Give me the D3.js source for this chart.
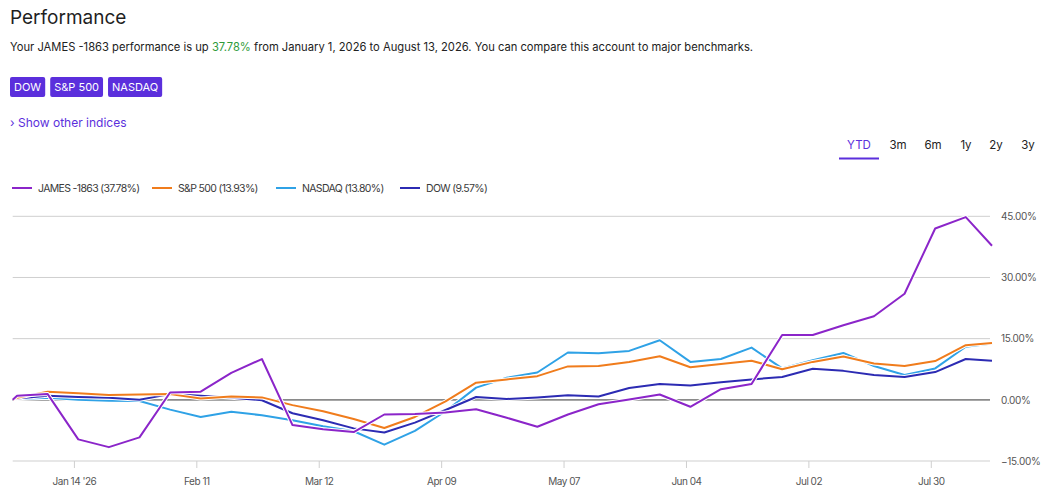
<!DOCTYPE html>
<html>
<head>
<meta charset="utf-8">
<script src="https://cdn.jsdelivr.net/npm/d3@7"></script>
<style>
  body { margin: 0; background: #fff; }
  svg { display: block; font-family: "Inter", "Roboto", sans-serif; }
</style>
</head>
<body>
<svg id="chart" width="1044" height="495"></svg>
<script>
const dates = [
  "2026-01-01", "2026-01-02", "2026-01-09", "2026-01-16", "2026-01-23", "2026-01-30",
  "2026-02-06", "2026-02-13", "2026-02-20", "2026-02-27",
  "2026-03-06", "2026-03-13", "2026-03-20", "2026-03-27",
  "2026-04-03", "2026-04-10", "2026-04-17", "2026-04-24",
  "2026-05-01", "2026-05-08", "2026-05-15", "2026-05-22", "2026-05-29",
  "2026-06-05", "2026-06-12", "2026-06-19", "2026-06-26",
  "2026-07-03", "2026-07-10", "2026-07-17", "2026-07-24", "2026-07-31",
  "2026-08-07", "2026-08-13"
];

const james = [0, 1.0, 1.4, -9.7, -11.6, -9.2, 1.8, 2.0, 6.6, 10.0,
  -6.2, -7.2, -7.9, -3.6, -3.5, -3.1, -2.3, -4.4,
  -6.6, -3.6, -1.1, 0.1, 1.3, -1.7, 2.6, 3.9, 15.9,
  15.9, 18.3, 20.5, 26.0, 42.0, 44.8, 37.78];
const sp500 = [0, 0.5, 2.0, 1.6, 1.2, 1.3, 1.4, 0.3, 0.8, 0.6,
  -1.3, -2.8, -4.7, -6.9, -4.2, -0.4, 4.2, 5.0,
  5.8, 8.2, 8.3, 9.3, 10.7, 8.0, 8.8, 9.6, 7.5,
  9.3, 10.6, 8.9, 8.3, 9.5, 13.4, 13.93];
const nasdaq = [0, 0.2, 0.5, 0.0, -0.2, -0.3, -2.4, -4.2, -2.9, -3.8,
  -5.0, -6.5, -7.7, -11.0, -7.6, -2.8, 3.0, 5.4,
  6.7, 11.6, 11.4, 12.0, 14.6, 9.3, 10.0, 12.8, 7.7,
  9.7, 11.5, 8.3, 6.1, 7.7, 13.0, 13.80];
const dow = [0, 0.3, 1.0, 0.7, 0.5, 0.0, 1.4, 1.0, 0.5, -0.1,
  -3.3, -5.0, -7.0, -8.0, -5.6, -2.5, 0.7, 0.2,
  0.6, 1.1, 0.8, 2.9, 3.9, 3.5, 4.3, 5.0, 5.6,
  7.6, 7.1, 6.1, 5.6, 6.8, 10.0, 9.57];

const seriesNames = ["JAMES -1863", "S&P 500", "NASDAQ", "DOW"];
const seriesColors = ["#8b25c9", "#f07c1c", "#2fa2e6", "#2c2bb3"];
const seriesValues = [james, sp500, nasdaq, dow];
const seriesTotals = ["37.78%", "13.93%", "13.80%", "9.57%"];

const yTicks = [45, 30, 15, 0, -15];
const xTickDates = ["2026-01-15", "2026-02-12", "2026-03-12", "2026-04-09",
  "2026-05-07", "2026-06-04", "2026-07-02", "2026-07-30"];
const xTickLabels = ["Jan 14 '26", "Feb 11", "Mar 12", "Apr 09", "May 07", "Jun 04", "Jul 02", "Jul 30"];

const benchButtons = ["DOW", "S&P 500", "NASDAQ"];
const ranges = ["YTD", "3m", "6m", "1y", "2y", "3y"];

const parse = d3.timeParse("%Y-%m-%d");
const svg = d3.select("#chart");
const purple = "#5b2fdc";

// header
svg.append("text")
  .attr("x", 10).attr("y", 24)
  .style("font-size", "19px").style("fill", "#1f1f1f")
  .text("Performance");

const sub = svg.append("text")
  .attr("x", 10).attr("y", 51)
  .style("font-size", "11.2px").style("fill", "#222");
sub.append("tspan").text("Your JAMES -1863 performance is up ");
sub.append("tspan").style("fill", "#2e9a3a").text("37.78%");
sub.append("tspan").text(" from January 1, 2026 to August 13, 2026. You can compare this account to major benchmarks.");

let bx = 10;
benchButtons.forEach(name => {
  const g = svg.append("g").attr("transform", `translate(${bx}, 77)`);
  const t = g.append("text")
    .attr("x", 4).attr("y", 14)
    .style("font-size", "11px").style("fill", "#fff")
    .text(name);
  const w = t.node().getComputedTextLength() + 8;
  g.insert("rect", "text")
    .attr("width", w).attr("height", 20).attr("rx", 2)
    .attr("fill", purple);
  bx += w + 5;
});

svg.append("text")
  .attr("x", 10).attr("y", 127)
  .style("font-size", "12px").style("fill", purple)
  .text("› Show other indices");

// range tabs
const tabX = [859, 898, 933, 966, 996, 1028];
ranges.forEach((r, i) => {
  svg.append("text")
    .attr("x", tabX[i]).attr("y", 149)
    .attr("text-anchor", "middle")
    .style("font-size", "11.5px")
    .style("fill", i === 0 ? purple : "#222")
    .text(r);
});
svg.append("line")
  .attr("x1", 839).attr("x2", 879).attr("y1", 158.5).attr("y2", 158.5)
  .attr("stroke", purple).attr("stroke-width", 2);

// legend
const legendX = [12, 152, 276, 400];
seriesNames.forEach((name, i) => {
  const g = svg.append("g").attr("transform", `translate(${legendX[i]}, 188)`);
  g.append("line")
    .attr("x1", 0).attr("x2", 20)
    .attr("stroke", seriesColors[i]).attr("stroke-width", 2);
  g.append("text")
    .attr("x", 26).attr("y", 4)
    .style("font-size", "10.5px").style("fill", "#3a3a3a")
    .style("letter-spacing", "-0.65px")
    .text(`${name} (${seriesTotals[i]})`);
});

// plot
const x = d3.scaleTime()
  .domain([parse(dates[0]), parse(dates[dates.length - 1])])
  .range([12.7, 992]);
const y = d3.scaleLinear()
  .domain([-15, 45])
  .range([461, 216.3]);

const grid = svg.append("g");
grid.selectAll("line")
  .data(yTicks)
  .enter()
  .append("line")
  .attr("x1", 12.7).attr("x2", 990)
  .attr("y1", d => y(d)).attr("y2", d => y(d))
  .attr("stroke", d => d === 0 ? "#8a8a8a" : "#cfcfcf")
  .attr("stroke-width", d => d === 0 ? 1.6 : 1);

const yAxis = svg.append("g")
  .attr("transform", "translate(990, 0)")
  .call(d3.axisRight(y).tickValues(yTicks).tickSize(0).tickPadding(11)
    .tickFormat(d => d3.format(".2f")(d) + "%"));
yAxis.select(".domain").remove();
yAxis.selectAll("text")
  .style("font-family", "Inter, Roboto, sans-serif")
  .style("font-size", "10px").style("fill", "#555")
  .style("letter-spacing", "-0.3px");

const xAxis = svg.append("g")
  .attr("transform", "translate(0, 461)")
  .call(d3.axisBottom(x).tickValues(xTickDates.map(parse)).tickSize(7).tickPadding(10)
    .tickFormat((d, i) => xTickLabels[i]));
xAxis.select(".domain").remove();
xAxis.selectAll(".tick line").attr("stroke", "#cfcfcf");
xAxis.selectAll("text")
  .style("font-family", "Inter, Roboto, sans-serif")
  .style("font-size", "10px").style("fill", "#555")
  .style("letter-spacing", "-0.5px");

const line = d3.line()
  .x((d, i) => x(parse(dates[i])))
  .y(d => y(d));

// draw order: NASDAQ, DOW, S&P 500, JAMES
[2, 3, 1, 0].forEach(i => {
  svg.append("path")
    .datum(seriesValues[i])
    .attr("fill", "none")
    .attr("stroke", "#fff")
    .attr("stroke-width", 4)
    .attr("stroke-linejoin", "round")
    .attr("d", line);
  svg.append("path")
    .datum(seriesValues[i])
    .attr("fill", "none")
    .attr("stroke", seriesColors[i])
    .attr("stroke-width", 2)
    .attr("stroke-linejoin", "round")
    .attr("d", line);
});
</script>
</body>
</html>
